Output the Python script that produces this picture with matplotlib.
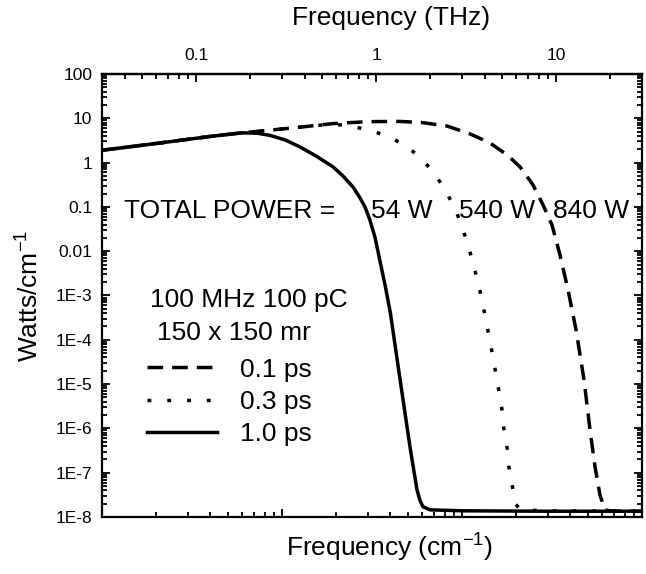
import numpy as np
import matplotlib
matplotlib.use('Agg')
import matplotlib.pyplot as plt
from matplotlib.ticker import FixedLocator, FixedFormatter, LogLocator, NullFormatter

plt.rcParams['font.family'] = ['Liberation Sans', 'DejaVu Sans']
plt.rcParams['mathtext.default'] = 'regular'

# data (frequency in cm^-1, power in W/cm^-1)
freq_10ps = [1.0, 2.0, 4.0, 6.0, 7.3, 8.6, 10.5, 12.6, 15.5, 19.2, 21.8, 24.8, 27.1, 28.9, 30.8,
             32.9, 35.0, 37.5, 40.0, 45.3, 51.4, 56.2, 58.3, 60.7, 66.4, 100, 300, 1000]
pow_10ps = [1.9, 2.7, 3.9, 4.7, 4.6, 4.1, 3.2, 2.25, 1.4, 0.80, 0.50, 0.28, 0.16, 0.10, 0.05,
            0.02, 6e-3, 1.6e-3, 4e-4, 1.24e-5, 3.8e-7, 4.1e-8, 2.4e-8, 1.7e-8, 1.45e-8, 1.38e-8,
            1.35e-8, 1.35e-8]

freq_03ps = [1.0, 2.0, 4.0, 6.0, 8.6, 12.6, 17.0, 21.8, 27.1, 34.2, 43.5, 54.8, 69.0, 80.5, 91.4,
             100, 108, 115, 123, 129, 145, 161, 167, 171, 178, 182, 190, 197, 210, 300, 1000]
pow_03ps = [1.9, 2.7, 3.9, 4.7, 5.4, 6.3, 7.1, 7.1, 6.0, 4.66, 3.07, 1.65, 0.646, 0.24, 0.094,
            0.035, 0.0138, 5.4e-3, 1.9e-3, 7.9e-4, 7.0e-5, 6.3e-6, 2.5e-6, 9.2e-7, 3.6e-7, 1.35e-7,
            5.3e-8, 2.07e-8, 1.44e-8, 1.38e-8, 1.35e-8]

freq_01ps = [1.0, 2.0, 4.0, 6.0, 8.6, 12.6, 19.2, 30.0, 45.0, 60.0, 82.5, 111, 143, 178, 210, 248,
             282, 316, 350, 388, 430, 476, 514, 548, 584, 623, 680, 1000]
pow_01ps = [1.9, 2.7, 3.9, 4.7, 5.4, 6.3, 7.6, 8.4, 8.5, 8.0, 6.7, 4.43, 2.77, 1.49, 0.80, 0.312,
            0.110, 0.039, 8.2e-3, 1.33e-3, 1.66e-4, 1.24e-5, 9.2e-7, 1.35e-7, 3.1e-8, 1.44e-8,
            1.36e-8, 1.35e-8]

series = [('0.1 ps', freq_01ps, pow_01ps, (0, (4.5, 2.6))),
          ('0.3 ps', freq_03ps, pow_03ps, (0, (1.1, 4.6))),
          ('1.0 ps', freq_10ps, pow_10ps, '-')]

ytick_vals = [1e2, 1e1, 1, 0.1, 0.01, 1e-3, 1e-4, 1e-5, 1e-6, 1e-7, 1e-8]
ytick_labels = ['100', '10', '1', '0.1', '0.01', '1E-3', '1E-4', '1E-5', '1E-6', '1E-7', '1E-8']
thz_ticks = [0.1, 1, 10]
thz_labels = ['0.1', '1', '10']

fig = plt.figure(figsize=(6.46, 5.74), dpi=100)
ax = fig.add_axes([0.1579, 0.0993, 0.836, 0.7718])

for name, f, p, ls in series:
    ax.plot(f, p, color='black', lw=2.5, linestyle=ls, label=name)

ax.set_xscale('log')
ax.set_yscale('log')
ax.set_xlim(1, 1000)
ax.set_ylim(1e-8, 100)

ax.yaxis.set_major_locator(FixedLocator(ytick_vals))
ax.yaxis.set_major_formatter(FixedFormatter(ytick_labels))
ax.yaxis.set_minor_locator(LogLocator(base=10, subs=np.arange(2, 10), numticks=20))
ax.yaxis.set_minor_formatter(NullFormatter())
ax.xaxis.set_minor_locator(LogLocator(base=10, subs=np.arange(2, 10), numticks=20))
ax.xaxis.set_major_formatter(NullFormatter())
ax.xaxis.set_minor_formatter(NullFormatter())

ax.tick_params(which='both', direction='in', top=False, right=True, width=1.3, labelsize=12.5)
ax.tick_params(axis='y', pad=7)
ax.tick_params(which='major', length=6)
ax.tick_params(which='minor', length=3.5)
for s in ax.spines.values():
    s.set_linewidth(1.6)

conv = 0.0299792458
top = ax.secondary_xaxis('top', functions=(lambda x: x * conv, lambda t: t / conv))
top.xaxis.set_major_locator(FixedLocator(thz_ticks))
top.xaxis.set_major_formatter(FixedFormatter(thz_labels))
top.xaxis.set_minor_locator(LogLocator(base=10, subs=np.arange(2, 10), numticks=20))
top.xaxis.set_minor_formatter(NullFormatter())
top.tick_params(which='both', direction='in', width=1.3, labelsize=12.5, pad=8)
top.tick_params(which='major', length=6)
top.tick_params(which='minor', length=3.5)
top.spines['top'].set_linewidth(1.6)

big = 19
fig.text(0.605, 0.968, 'Frequency (THz)', fontsize=big, ha='center', va='center')
fig.text(0.603, 0.045, r'Frequency (cm$^{-1}$)', fontsize=big, ha='center', va='center')
fig.text(0.047, 0.485, r'Watts/cm$^{-1}$', fontsize=big, ha='center', va='center', rotation=90)

fig.text(0.192, 0.632, 'TOTAL POWER =', fontsize=big, ha='left', va='center')
fig.text(0.574, 0.632, '54 W', fontsize=big, ha='left', va='center')
fig.text(0.711, 0.632, '540 W', fontsize=big, ha='left', va='center')
fig.text(0.856, 0.632, '840 W', fontsize=big, ha='left', va='center')

fig.text(0.232, 0.477, '100 MHz 100 pC', fontsize=big, ha='left', va='center')
fig.text(0.243, 0.420, '150 x 150 mr', fontsize=big, ha='left', va='center')

ax.legend(loc='upper left', bbox_to_anchor=(0.228, 0.377), bbox_transform=fig.transFigure,
          frameon=False, fontsize=big, handlelength=2.65, handletextpad=0.85,
          labelspacing=0.31, borderpad=0, borderaxespad=0)

fig.savefig('out.png', dpi=100)
